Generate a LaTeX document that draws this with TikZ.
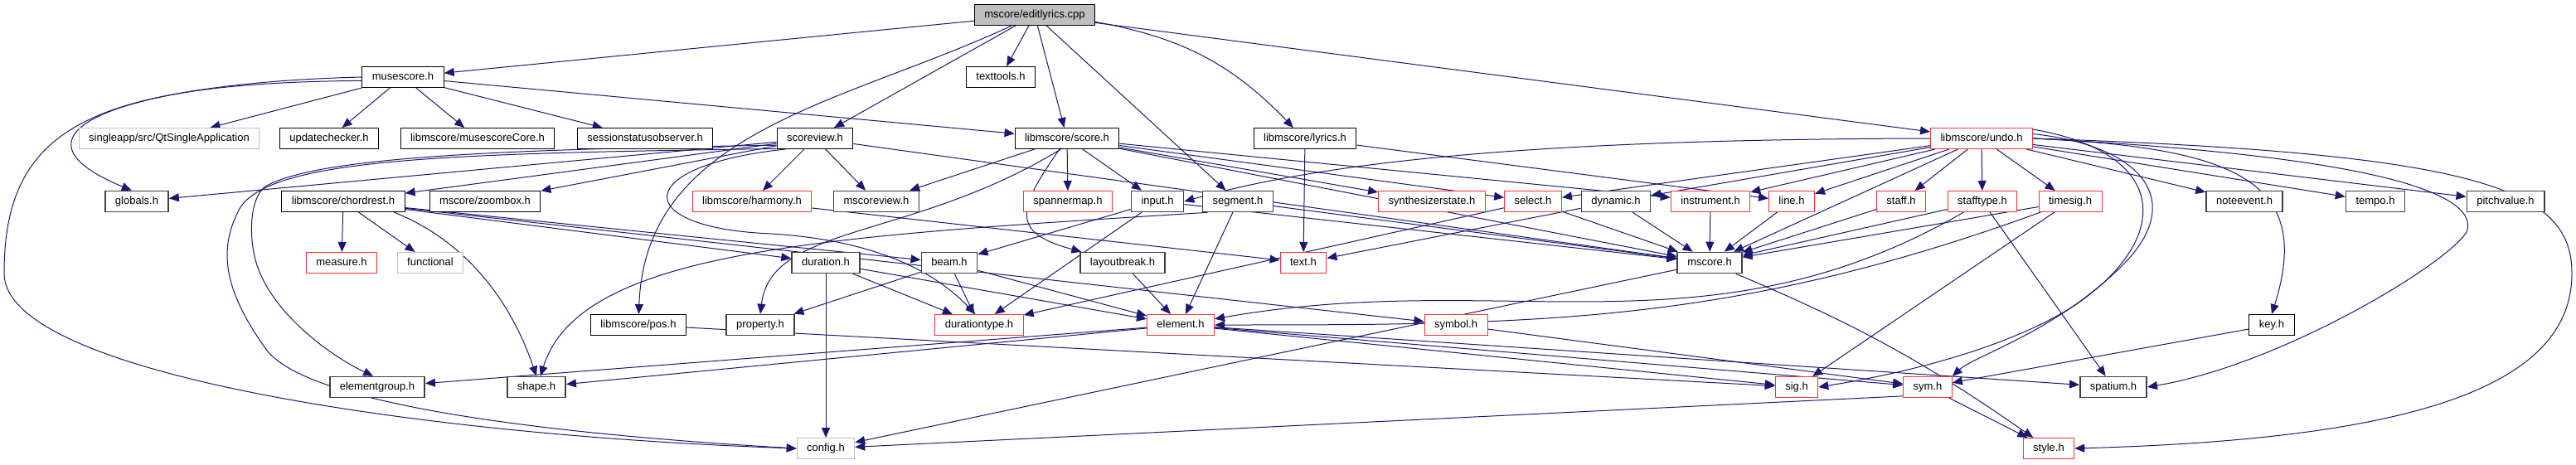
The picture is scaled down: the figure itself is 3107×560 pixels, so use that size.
\documentclass[tikz,border=0pt]{standalone}
\usepackage{fontspec}
\setmainfont{Liberation Sans}
\usetikzlibrary{arrows.meta,backgrounds}
\definecolor{dxblue}{HTML}{191970}
\definecolor{dxred}{HTML}{FF3333}
\definecolor{dxgray}{HTML}{BFBFBF}
\tikzset{hdr/.style={draw=black, line width=1pt, fill=white, minimum height=25pt, inner xsep=12pt, inner ysep=0pt, text height=9.5pt, text depth=2.8pt}}
\tikzset{hdrdark/.style={hdr, draw=black!75, line width=1.6pt}}
\tikzset{hdrred/.style={hdr, draw=dxred}}
\tikzset{hdrgray/.style={hdr, draw=dxgray}}
\tikzset{hdrroot/.style={hdr, fill=dxgray}}
\tikzset{dep/.style={draw=dxblue, line width=1pt}}

\begin{document}
\begin{tikzpicture}[x=1pt, y=1pt, >={Triangle[length=12pt,width=10pt]}, every edge/.style={dep}, font=\fontsize{13}{15}\selectfont]
\useasboundingbox (0,0) rectangle (3107,-560);

% top
\node[hdrroot] (editlyrics) at (1248,-18) {mscore/editlyrics.cpp};
\node[hdr] (musescore) at (486,-93) {musescore.h};
\node[hdr] (texttools) at (1207,-93) {texttools.h};

% second row
\node[hdrgray] (singleapp) at (204,-167) {singleapp/src/QtSingleApplication};
\node[hdr] (updatechecker) at (397,-167) {updatechecker.h};
\node[hdr] (mscorecore) at (576,-167) {libmscore/musescoreCore.h};
\node[hdr] (sessionobs) at (778,-167) {sessionstatusobserver.h};
\node[hdr] (scoreview) at (983,-167) {scoreview.h};
\node[hdr] (score) at (1287,-167) {libmscore/score.h};
\node[hdr] (lyrics) at (1574,-167) {libmscore/lyrics.h};
\node[hdrred] (undo) at (2390,-167) {libmscore/undo.h};

% third row
\node[hdrdark] (globals) at (165,-243) {globals.h};
\node[hdr] (chordrest) at (414,-243) {libmscore/chordrest.h};
\node[hdr] (zoombox) at (585,-243) {mscore/zoombox.h};
\node[hdrred] (harmony) at (907,-243) {libmscore/harmony.h};
\node[hdrdark] (mscoreview) at (1057,-243) {mscoreview.h};
\node[hdrred] (spannermap) at (1288,-243) {spannermap.h};
\node[hdrdark] (input) at (1396,-243) {input.h};
\node[hdrdark] (segment) at (1493,-243) {segment.h};
\node[hdrred] (synthstate) at (1727,-243) {synthesizerstate.h};
\node[hdrred] (select) at (1849,-243) {select.h};
\node[hdrdark] (dynamic) at (1949,-243) {dynamic.h};
\node[hdrred] (instrument) at (2063,-243) {instrument.h};
\node[hdrred] (line) at (2161,-243) {line.h};
\node[hdrred] (staff) at (2293,-243) {staff.h};
\node[hdrred] (stafftype) at (2391,-243) {stafftype.h};
\node[hdrred] (timesig) at (2497,-243) {timesig.h};
\node[hdrdark] (noteevent) at (2707,-243) {noteevent.h};
\node[hdrdark] (tempo) at (2865,-243) {tempo.h};
\node[hdrdark] (pitchvalue) at (3022,-243) {pitchvalue.h};

% fourth row
\node[hdrred] (measure) at (412,-317) {measure.h};
\node[hdrgray] (functional) at (519,-317) {functional};
\node[hdrdark] (duration) at (996,-317) {duration.h};
\node[hdrdark] (beam) at (1145,-317) {beam.h};
\node[hdrdark] (layoutbreak) at (1354,-317) {layoutbreak.h};
\node[hdrred] (text) at (1572,-317) {text.h};
\node[hdrdark] (mscore) at (2062,-317) {mscore.h};

% fifth row
\node[hdr] (pos) at (770,-392) {libmscore/pos.h};
\node[hdrdark] (property) at (917,-392) {property.h};
\node[hdrred] (durationtype) at (1181,-392) {durationtype.h};
\node[hdrred] (element) at (1424,-392) {element.h};
\node[hdrred] (symbol) at (1756,-392) {symbol.h};
\node[hdr] (key) at (2740,-392) {key.h};

% bottom rows
\node[hdrdark] (elementgroup) at (455,-467) {elementgroup.h};
\node[hdrdark] (shape) at (647,-467) {shape.h};
\node[hdrred] (sig) at (2167,-467) {sig.h};
\node[hdrred] (sym) at (2325,-467) {sym.h};
\node[hdrdark] (spatium) at (2549,-467) {spatium.h};
\node[hdrgray] (config) at (996,-541) {config.h};
\node[hdrred] (style) at (2471,-541) {style.h};

\begin{pgfonlayer}{background}
% editlyrics.cpp
\path[->] (editlyrics) edge (musescore)
	edge (scoreview)
	edge (texttools)
	edge (score)
	edge (segment)
	edge[bend left=18] (lyrics)
	edge (undo)
	edge[out=205, in=88] (pos);

% musescore.h
\path[->] (musescore) edge (singleapp)
	edge (updatechecker)
	edge (mscorecore)
	edge (sessionobs)
	edge (score);
\draw[dep,->] (musescore.180) .. controls (150,-100) and (-10,-160) .. (globals.115);
\draw[dep,->] (musescore.185) .. controls (100,-100) and (5,-160) .. (5,-330) .. controls (5,-450) and (500,-525) .. (config.west);

% scoreview.h
\path[->] (scoreview) edge (globals)
	edge (chordrest)
	edge (zoombox)
	edge (harmony)
	edge (mscoreview)
	edge (mscore);
\draw[dep,->] (scoreview.190) .. controls (600,-180) and (380,-190) .. (320,-225) .. controls (300,-240) and (300,-290) .. (310,-320) .. controls (330,-380) and (400,-430) .. (elementgroup.110);
\draw[dep,->] (scoreview.195) .. controls (550,-185) and (330,-190) .. (290,-250) .. controls (262,-300) and (270,-350) .. (320,-420) .. controls (360,-480) and (600,-520) .. (config.west);
\draw[dep,->] (scoreview.200) .. controls (760,-200) and (760,-275) .. (930,-282) .. controls (1060,-290) and (1130,-330) .. (durationtype.110);

% libmscore/score.h
\path[->] (score) edge (mscoreview)
	edge (spannermap)
	edge (input)
	edge (synthstate)
	edge (select)
	edge (instrument)
	edge (mscore)
	edge[out=235, in=165, looseness=1.8] (layoutbreak);
\draw[dep,->] (score.240) .. controls (1100,-290) and (930,-270) .. (property.north);

% libmscore/lyrics.h
\path[->] (lyrics) edge (text)
	edge (line);

% libmscore/undo.h
\path[->] (undo) edge (select)
	edge (dynamic)
	edge (instrument)
	edge (line)
	edge (staff)
	edge (stafftype)
	edge (timesig)
	edge (noteevent)
	edge (tempo)
	edge (pitchvalue)
	edge (mscore);
\draw[dep,->] (undo.west) .. controls (1850,-168) and (1600,-195) .. (input.east);
\draw[dep,->] (undo.east) .. controls (2700,-178) and (2790,-220) .. (key.north);
\draw[dep,->] (undo.10) .. controls (2620,-185) and (2620,-290) .. (2500,-370) .. controls (2420,-420) and (2300,-450) .. (sig.east);
\draw[dep,->] (undo.5) .. controls (2580,-175) and (2640,-240) .. (2560,-320) .. controls (2480,-400) and (2380,-430) .. (sym.north east);
\draw[dep,->] (undo.east) .. controls (2900,-190) and (2990,-240) .. (2975,-280) .. controls (2950,-320) and (2750,-440) .. (spatium.east);
\draw[dep,->] (undo.east) .. controls (3000,-185) and (3102,-230) .. (3102,-330) .. controls (3102,-470) and (2900,-530) .. (style.east);

% libmscore/chordrest.h
\path[->] (chordrest) edge (measure)
	edge (functional)
	edge (duration)
	edge (beam)
	edge (symbol);
\draw[dep,->] (chordrest.-12) .. controls (560,-290) and (615,-360) .. (shape.north);

% the rest
\path[->] (duration) edge (config)
	edge (durationtype)
	edge (element);
\path[->] (beam) edge (property)
	edge (durationtype)
	edge (element);
\path[->] (layoutbreak) edge (element);
\path[->] (segment) edge (element)
	edge (mscore);
\draw[dep,->] (segment.200) .. controls (1000,-285) and (700,-300) .. (shape.70);
\path[->] (input) edge (beam)
	edge (durationtype)
	edge (mscore);
\path[->] (harmony) edge (text);
\path[->] (select) edge (mscore)
	edge (durationtype);
\path[->] (dynamic) edge (mscore)
	edge (text);
\path[->] (instrument) edge (mscore);
\path[->] (line) edge (mscore);
\path[->] (staff) edge (mscore);
\path[->] (stafftype) edge (mscore)
	edge[out=210, in=10] (element)
	edge (spatium);
\path[->] (timesig) edge (mscore)
	edge[out=200, in=0] (element)
	edge (sig);
\path[->] (pos) edge (sig);
\path[->] (element) edge (elementgroup)
	edge (shape)
	edge (sig)
	edge (sym)
	edge (spatium);
\path[->] (mscore) edge (config)
	edge[bend left=6] (style);
\path[->] (symbol) edge (sym);
\path[->] (key) edge (sym);
\path[->] (sym.200) edge (config);
\path[->] (sym) edge (style);
\end{pgfonlayer}
\end{tikzpicture}
\end{document}
